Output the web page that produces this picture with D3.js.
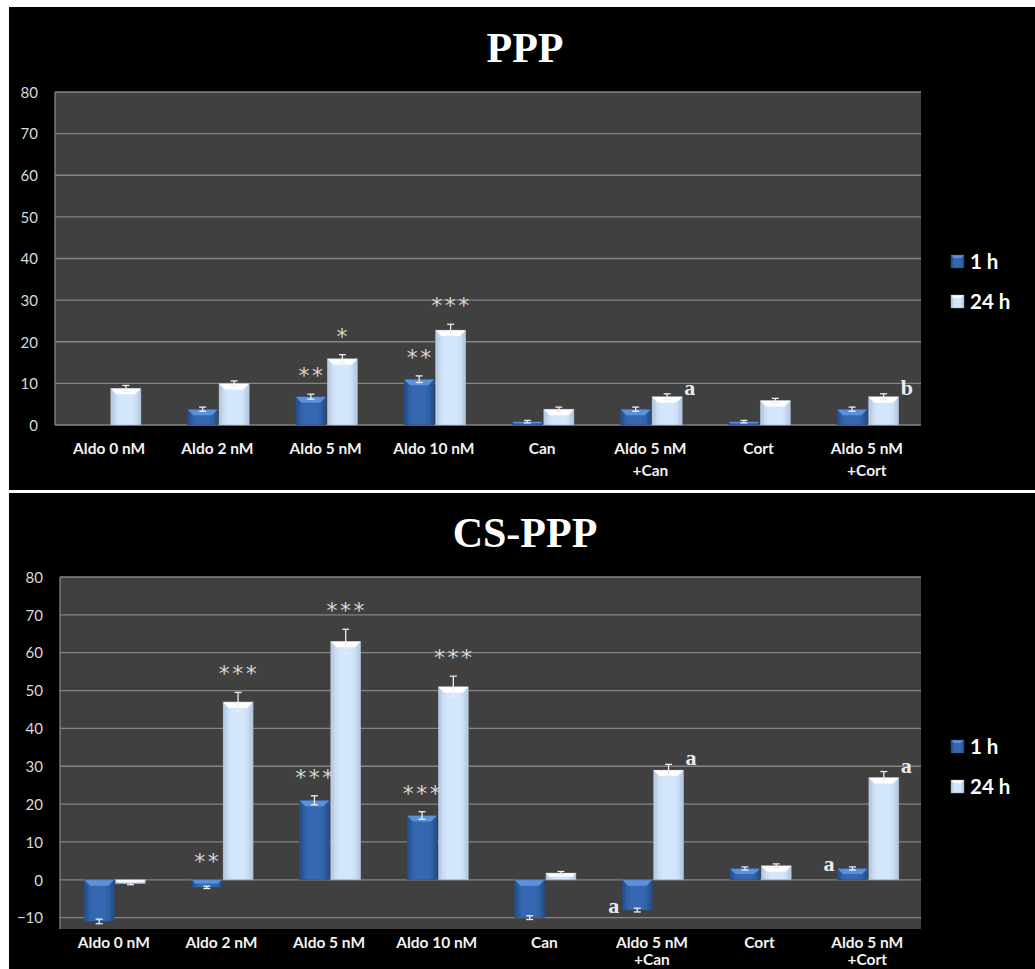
<!DOCTYPE html>
<html>
<head>
<meta charset="utf-8">
<script src="https://cdn.jsdelivr.net/npm/d3@7"></script>
<style>
  html, body { margin: 0; padding: 0; background: #ffffff; }
  svg { display: block; }
</style>
</head>
<body>
<svg id="fig" width="1035" height="969"></svg>
<script>
// ---- data ----
const categories = ["Aldo 0 nM", "Aldo 2 nM", "Aldo 5 nM", "Aldo 10 nM", "Can",
                    "Aldo 5 nM\n+Can", "Cort", "Aldo 5 nM\n+Cort"];
const seriesNames = ["1 h", "24 h"];

// PPP panel
const ppp1h      = [0, 3.8, 6.8, 11, 0.8, 3.8, 0.8, 3.8];
const ppp1hErr   = [0, 0.5, 0.6, 0.8, 0.3, 0.5, 0.3, 0.5];
const ppp24h     = [8.8, 10, 15.9, 22.8, 3.8, 6.8, 5.9, 6.8];
const ppp24hErr  = [0.7, 0.6, 1.0, 1.4, 0.5, 0.7, 0.5, 0.7];
const pppMarks1h  = ["", "", "**", "**", "", "", "", ""];
const pppMarks24h = ["", "", "*", "***", "", "a", "", "b"];
const pppTicks   = [0, 10, 20, 30, 40, 50, 60, 70, 80];

// CS-PPP panel
const cs1h       = [-11, -2, 21, 17, -10, -8, 3, 3];
const cs1hErr    = [0.6, 0.3, 1.2, 1.0, 0.5, 0.5, 0.4, 0.4];
const cs24h      = [-1, 47, 63, 51, 1.8, 29, 3.7, 27];
const cs24hErr   = [0.3, 2.5, 3.2, 2.8, 0.4, 1.5, 0.5, 1.6];
const csMarks1h  = ["", "**", "***", "***", "", "a", "", "a"];
const csMarks24h = ["", "***", "***", "***", "", "a", "", "a"];
const csTicks    = [-10, 0, 10, 20, 30, 40, 50, 60, 70, 80];

// ---- drawing ----
const svg = d3.select("#fig");
const defs = svg.append("defs");

// body gradients: darker toward the sides, lighter in the middle
function hGrad(id, edge, mid) {
  const g = defs.append("linearGradient").attr("id", id)
    .attr("x1", "0").attr("x2", "1").attr("y1", "0").attr("y2", "0");
  g.append("stop").attr("offset", "0").attr("stop-color", edge);
  g.append("stop").attr("offset", "0.3").attr("stop-color", mid);
  g.append("stop").attr("offset", "0.7").attr("stop-color", mid);
  g.append("stop").attr("offset", "1").attr("stop-color", edge);
}
hGrad("body1", "#2a5797", "#3568b0");
hGrad("body24", "#bfd2ea", "#d3e6fc");

const styles = {
  "1 h":  { body: "url(#body1)",  top: "#5c92dc", side: "#1f467f", bottom: "#1f447a", stroke: "#25497c" },
  "24 h": { body: "url(#body24)", top: "#ffffff", side: "#a9bdd6", bottom: "#a8bad0", stroke: "#9aa8b8" }
};

function bevelBar(g, x, w, yA, yB, st, bev) {
  // yA = upper edge, yB = lower edge (pixels)
  const h = yB - yA;
  if (h <= 0.2) return;
  const b = Math.min(bev, h / 2, w / 2);
  g.append("rect").attr("x", x).attr("y", yA).attr("width", w).attr("height", h)
    .attr("fill", st.body);
  g.append("path").attr("fill", st.side).attr("opacity", 0.35)
    .attr("d", `M${x},${yA}L${x + b * 0.6},${yA + b}L${x + b * 0.6},${yB}L${x},${yB}Z`);
  g.append("path").attr("fill", st.side).attr("opacity", 0.35)
    .attr("d", `M${x + w},${yA}L${x + w - b * 0.6},${yA + b}L${x + w - b * 0.6},${yB}L${x + w},${yB}Z`);
  g.append("path").attr("fill", st.top)
    .attr("d", `M${x},${yA}L${x + w},${yA}L${x + w - b},${yA + b}L${x + b},${yA + b}Z`);
  g.append("rect").attr("x", x).attr("y", yA).attr("width", w).attr("height", h)
    .attr("fill", "none").attr("stroke", st.stroke).attr("stroke-width", 0.6).attr("opacity", 0.7);
}

function drawPanel(cfg) {
  const g = svg.append("g");
  g.append("rect").attr("x", 9).attr("y", cfg.panelTop).attr("width", 1026)
    .attr("height", cfg.panelH).attr("fill", "#000000");

  g.append("text").attr("x", 525).attr("y", cfg.titleY).attr("text-anchor", "middle")
    .attr("font-family", "'Liberation Serif', 'Times New Roman', serif")
    .attr("font-weight", "bold").attr("font-size", 42).attr("fill", "#ffffff")
    .text(cfg.title);

  const p = cfg.plot;
  const y = d3.scaleLinear().domain(cfg.domain).range([p.bottom, p.top]);
  const x0 = d3.scaleBand().domain(categories).range([p.left, p.right]).padding(0);
  const bw = x0.bandwidth();
  const gw = bw * 0.57;
  const x1 = d3.scaleBand().domain(seriesNames)
    .range([(bw - gw) / 2 + 1, (bw + gw) / 2 + 1]).paddingInner(0.04);

  g.append("rect").attr("x", p.left).attr("y", p.top)
    .attr("width", p.right - p.left).attr("height", p.bottom - p.top).attr("fill", "#404040");

  // gridlines
  g.append("g").selectAll("line").data(cfg.ticks).join("line")
    .attr("x1", p.left).attr("x2", p.right)
    .attr("y1", d => y(d)).attr("y2", d => y(d))
    .attr("stroke", "#858585").attr("stroke-width", 1.3);
  g.append("line").attr("x1", p.left).attr("x2", p.left)
    .attr("y1", p.top).attr("y2", p.bottom)
    .attr("stroke", "#858585").attr("stroke-width", 1.3);

  // value axis
  const ax = g.append("g").attr("transform", `translate(${p.left - 17},0)`)
    .call(d3.axisLeft(y).tickValues(cfg.ticks).tickSize(0).tickPadding(0));
  ax.select(".domain").remove();
  ax.selectAll("text").attr("font-family", "Lato, 'Open Sans', sans-serif")
    .attr("font-size", 15).attr("fill", "#d9d9d9").attr("dy", "0.35em");

  // category labels
  const lab = g.append("g");
  categories.forEach(c => {
    const t = lab.append("text").attr("x", x0(c) + bw / 2).attr("y", cfg.labelY)
      .attr("text-anchor", "middle")
      .attr("font-family", "Lato, 'Open Sans', sans-serif").attr("font-weight", "bold")
      .attr("font-size", 15.5).attr("fill", "#f2f2f2");
    c.split("\n").forEach((line, i) => {
      t.append("tspan").attr("x", x0(c) + bw / 2).attr("dy", i === 0 ? 0 : cfg.lineGap).text(line);
    });
  });

  // bars, error bars and significance marks
  const series = [
    { name: "1 h", vals: cfg.s1, errs: cfg.e1, marks: cfg.m1 },
    { name: "24 h", vals: cfg.s24, errs: cfg.e24, marks: cfg.m24 }
  ];
  const barsG = g.append("g");
  const errG = g.append("g");
  const markG = g.append("g");
  series.forEach(s => {
    const st = styles[s.name];
    categories.forEach((c, i) => {
      const v = s.vals[i];
      const xb = x0(c) + x1(s.name);
      const w = x1.bandwidth();
      const yA = y(Math.max(0, v)), yB = y(Math.min(0, v));
      bevelBar(barsG, xb, w, yA, yB, st, 6);

      const e = s.errs[i];
      const cx = xb + w / 2;
      if (e > 0) {
        const yHi = y(v + e), yLo = y(v - e);
        errG.append("line").attr("x1", cx).attr("x2", cx).attr("y1", yHi).attr("y2", yLo)
          .attr("stroke", "#eeeeee").attr("stroke-width", 1.3);
        [yHi, yLo].forEach(yy => errG.append("line")
          .attr("x1", cx - 3.5).attr("x2", cx + 3.5).attr("y1", yy).attr("y2", yy)
          .attr("stroke", "#eeeeee").attr("stroke-width", 1.3));
      }

      const m = s.marks[i];
      if (!m) return;
      if (m.includes("*")) {
        const anchorY = Math.min(y(0), y(v + e));
        markG.append("text").attr("x", cx + 1).attr("y", anchorY - 11)
          .attr("text-anchor", "middle")
          .attr("font-family", "'DejaVu Sans', sans-serif").attr("font-size", 22)
          .attr("letter-spacing", 2.5).attr("fill", "#d6d6d6").text(m);
      } else if (s.name === "24 h") {
        markG.append("text").attr("x", xb + w + 2).attr("y", y(v + e) + 1)
          .attr("font-family", "'Liberation Serif', serif").attr("font-weight", "bold")
          .attr("font-size", 22).attr("fill", "#ececec").text(m);
      } else {
        markG.append("text").attr("x", xb - 3).attr("y", y(v) + 3)
          .attr("text-anchor", "end")
          .attr("font-family", "'Liberation Serif', serif").attr("font-weight", "bold")
          .attr("font-size", 22).attr("fill", "#ececec").text(m);
      }
    });
  });

  // legend
  const lg = g.append("g");
  seriesNames.forEach((n, i) => {
    const yy = cfg.legendY + i * 40;
    bevelBar(lg, 951, 13, yy, yy + 13, styles[n], 3);
    lg.append("text").attr("x", 970).attr("y", yy + 14)
      .attr("font-family", "Lato, 'Open Sans', sans-serif").attr("font-weight", "bold")
      .attr("font-size", 20.5).attr("fill", "#ffffff").text(n);
  });
}

drawPanel({
  title: "PPP", panelTop: 7, panelH: 483, titleY: 62,
  plot: { left: 55, right: 921, top: 92, bottom: 425 }, domain: [0, 80], ticks: pppTicks,
  labelY: 454, lineGap: 21.5, legendY: 255,
  s1: ppp1h, e1: ppp1hErr, m1: pppMarks1h, s24: ppp24h, e24: ppp24hErr, m24: pppMarks24h
});

drawPanel({
  title: "CS-PPP", panelTop: 493, panelH: 476, titleY: 547,
  plot: { left: 60, right: 921, top: 577, bottom: 929 }, domain: [-13, 80], ticks: csTicks,
  labelY: 948, lineGap: 17, legendY: 740,
  s1: cs1h, e1: cs1hErr, m1: csMarks1h, s24: cs24h, e24: cs24hErr, m24: csMarks24h
});
</script>
</body>
</html>
